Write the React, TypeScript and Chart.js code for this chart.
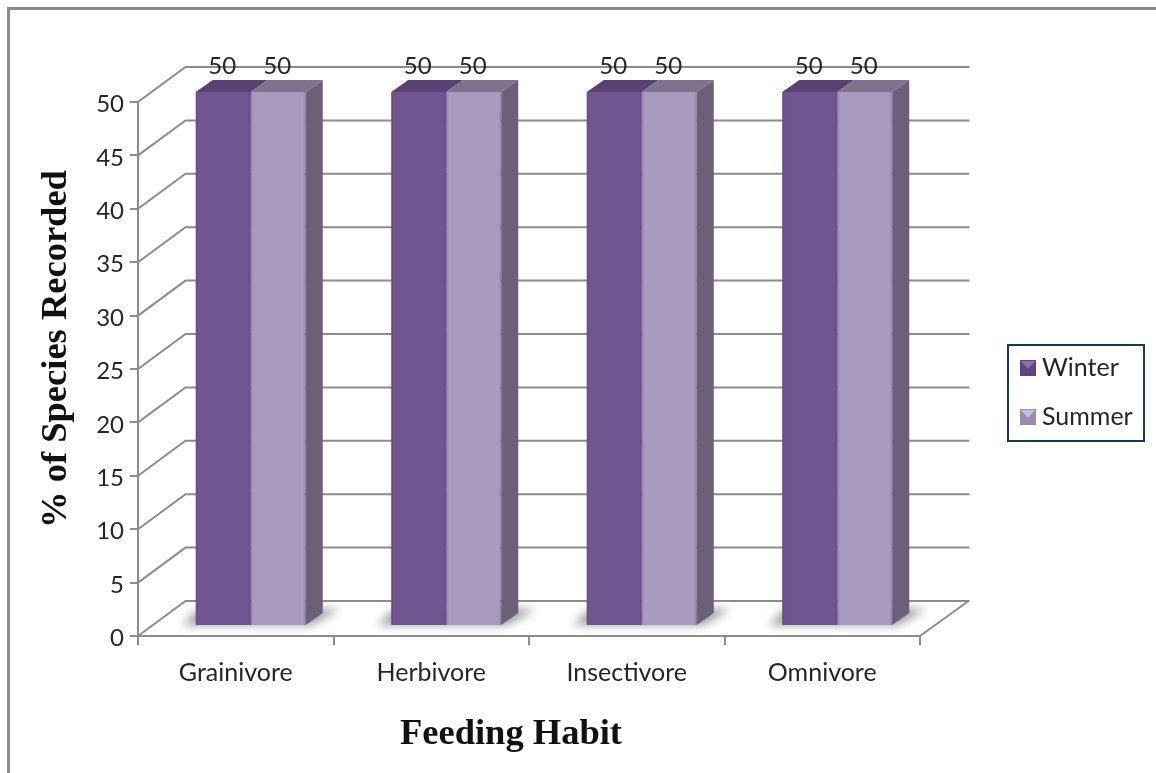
import React, { useEffect, useRef } from "react";
import { Chart, registerables } from "chart.js";

Chart.register(...registerables);

const categories = ["Grainivore", "Herbivore", "Insectivore", "Omnivore"];
const winterValues = [50, 50, 50, 50];
const summerValues = [50, 50, 50, 50];
const seriesNames = ["Winter", "Summer"];
const xAxisTitle = "Feeding Habit";
const yAxisTitle = "% of Species Recorded";
const frontColors = ["#705590", "#A99ABF"];
const topColors = ["#5A4374", "#80728F"];
const sideColor = "#6B6078";
const gridColor = "#8C8C8C";
const textColor = "#262626";
const labelFont = "Lato, 'Open Sans', sans-serif";
const titleFont = "'Liberation Serif', serif";

const WALL_DX = 47.5;
const WALL_DY = -35;
const BAR_DX = 15;
const BAR_DY = -10;
const DEPTH_DX = 17;
const DEPTH_DY = -12;

function swatch(dark: string, light: string) {
  const c = document.createElement("canvas");
  c.width = 16;
  c.height = 16;
  const x = c.getContext("2d")!;
  x.fillStyle = dark;
  x.fillRect(0, 0, 16, 16);
  x.fillStyle = light;
  x.beginPath();
  x.moveTo(1, 1);
  x.lineTo(15, 1);
  x.lineTo(8, 9);
  x.closePath();
  x.fill();
  return c;
}

const backdrop = {
  id: "backdrop",
  beforeDraw(chart: any) {
    const { ctx, scales, chartArea } = chart;
    const y = scales.y;
    ctx.save();
    // outer frame: only the top and left edges are inside the picture
    ctx.strokeStyle = "#8A8A8A";
    ctx.lineWidth = 3;
    ctx.beginPath();
    ctx.moveTo(8.5, 773);
    ctx.lineTo(8.5, 8.5);
    ctx.lineTo(1156, 8.5);
    ctx.stroke();
    // walls and floor
    ctx.strokeStyle = gridColor;
    ctx.lineWidth = 2;
    for (const t of y.ticks) {
      const py = y.getPixelForValue(t.value);
      ctx.beginPath();
      ctx.moveTo(chartArea.left, py);
      ctx.lineTo(chartArea.left + WALL_DX, py + WALL_DY);
      ctx.lineTo(chartArea.right + WALL_DX + 2, py + WALL_DY);
      ctx.stroke();
    }
    const base = y.getPixelForValue(0);
    ctx.beginPath();
    ctx.moveTo(chartArea.right, base);
    ctx.lineTo(chartArea.right + WALL_DX + 1, base + WALL_DY);
    ctx.stroke();
    // axis titles
    ctx.fillStyle = "#111";
    ctx.font = `bold 36.5px ${titleFont}`;
    ctx.textAlign = "center";
    ctx.textBaseline = "middle";
    ctx.fillText(xAxisTitle, 511, 735);
    ctx.translate(57, 349);
    ctx.rotate(-Math.PI / 2);
    ctx.fillText(yAxisTitle, 0, 0);
    ctx.restore();
  },
  beforeDatasetsDraw(chart: any) {
    const { ctx } = chart;
    const first = chart.getDatasetMeta(0).data;
    const last = chart.getDatasetMeta(1).data;
    ctx.save();
    ctx.filter = "blur(5px)";
    ctx.fillStyle = "#9A9A9A";
    first.forEach((bar: any, i: number) => {
      const l = bar.x - bar.width / 2 + BAR_DX;
      const r = last[i].x + last[i].width / 2 + BAR_DX;
      const b = bar.base + BAR_DY;
      ctx.beginPath();
      ctx.moveTo(l - 14, b);
      ctx.lineTo(r + 6, b);
      ctx.lineTo(r + 34, b - 16);
      ctx.lineTo(l + 4, b - 16);
      ctx.closePath();
      ctx.fill();
    });
    ctx.restore();
    ctx.save();
    ctx.translate(BAR_DX, BAR_DY);
  },
  afterDatasetsDraw(chart: any) {
    const { ctx } = chart;
    [0, 1].forEach((d) => {
      chart.getDatasetMeta(d).data.forEach((bar: any) => {
        const l = bar.x - bar.width / 2;
        const r = bar.x + bar.width / 2;
        const top = bar.y;
        const bot = bar.base;
        // top face
        ctx.fillStyle = topColors[d];
        ctx.beginPath();
        ctx.moveTo(l, top);
        ctx.lineTo(l + DEPTH_DX, top + DEPTH_DY);
        ctx.lineTo(r + DEPTH_DX, top + DEPTH_DY);
        ctx.lineTo(r, top);
        ctx.closePath();
        ctx.fill();
        // side face, only the last series shows one
        if (d === 1) {
          ctx.fillStyle = sideColor;
          ctx.beginPath();
          ctx.moveTo(r, top);
          ctx.lineTo(r + DEPTH_DX, top + DEPTH_DY);
          ctx.lineTo(r + DEPTH_DX, bot + DEPTH_DY);
          ctx.lineTo(r, bot);
          ctx.closePath();
          ctx.fill();
        }
        // bevel on the front face
        const g = ctx.createLinearGradient(l, 0, r, 0);
        g.addColorStop(0, "rgba(60,40,80,0.22)");
        g.addColorStop(0.05, "rgba(60,40,80,0)");
        g.addColorStop(0.95, "rgba(60,40,80,0)");
        g.addColorStop(1, "rgba(60,40,80,0.22)");
        ctx.fillStyle = g;
        ctx.fillRect(l, top, r - l, bot - top);
      });
    });
    // value labels
    ctx.fillStyle = textColor;
    ctx.font = `24px ${labelFont}`;
    ctx.textAlign = "center";
    ctx.textBaseline = "middle";
    [0, 1].forEach((d) => {
      chart.getDatasetMeta(d).data.forEach((bar: any, i: number) => {
        const v = (d === 0 ? winterValues : summerValues)[i];
        ctx.fillText(String(v), bar.x - 1, bar.y - 26);
      });
    });
    ctx.restore();
  },
  afterLayout(chart: any) {
    const lg = chart.legend;
    if (!lg) return;
    lg.left = 1002.5;
    lg.right = 1145;
    lg.top = 331.5;
    lg.bottom = 600;
    lg.width = 142.5;
    lg.height = 268.5;
  },
  afterDraw(chart: any) {
    const { ctx } = chart;
    ctx.save();
    ctx.strokeStyle = "#17375E";
    ctx.lineWidth = 2;
    ctx.strokeRect(1008, 345, 136, 96);
    ctx.restore();
  },
};

export default function App() {
  const ref = useRef<HTMLCanvasElement>(null);
  useEffect(() => {
    const icons = [swatch("#5F4682", "#8A70AC"), swatch("#9A8AB2", "#C9BEDA")];
    const chart = new Chart(ref.current!, {
      type: "bar",
      data: {
        labels: categories,
        datasets: [
          { label: seriesNames[0], data: winterValues, backgroundColor: frontColors[0], clip: false } as any,
          { label: seriesNames[1], data: summerValues, backgroundColor: frontColors[1], clip: false } as any,
        ],
      },
      options: {
        responsive: false,
        animation: false,
        categoryPercentage: 0.5627,
        barPercentage: 1,
        layout: { padding: { left: 0, top: 102, right: 236, bottom: 0 } },
        plugins: {
          title: { display: false },
          tooltip: { enabled: false },
          legend: {
            position: "chartArea",
            align: "start",
            labels: {
              usePointStyle: true,
              boxWidth: 3,
              boxHeight: 16,
              padding: 24,
              color: textColor,
              font: { family: labelFont, size: 25 },
              generateLabels: () =>
                seriesNames.map((n, i) => ({
                  text: n,
                  pointStyle: icons[i],
                  fontColor: textColor,
                  lineWidth: 0,
                  datasetIndex: i,
                })),
            },
          } as any,
        },
        scales: {
          x: {
            afterFit: (s: any) => {
              s.height = 137;
            },
            grid: { drawOnChartArea: false, color: gridColor, lineWidth: 2, tickLength: 9 },
            border: { color: gridColor, width: 2 },
            ticks: { color: textColor, font: { family: labelFont, size: 25 }, padding: 13, maxRotation: 0 },
          },
          y: {
            min: 0,
            max: 50,
            afterFit: (s: any) => {
              s.width = 138;
            },
            grid: { drawOnChartArea: false, color: gridColor, lineWidth: 2, tickLength: 8 },
            border: { color: gridColor, width: 2 },
            ticks: { stepSize: 5, color: textColor, font: { family: labelFont, size: 24 }, padding: 6, labelOffset: 2.5 },
          },
        },
      },
      plugins: [backdrop],
    } as any);
    return () => chart.destroy();
  }, []);
  return (
    <div style={{ position: "absolute", left: 0, top: 0, width: 1156, height: 773, background: "#fff" }}>
      <canvas ref={ref} width={1156} height={773} style={{ display: "block" }} />
    </div>
  );
}
